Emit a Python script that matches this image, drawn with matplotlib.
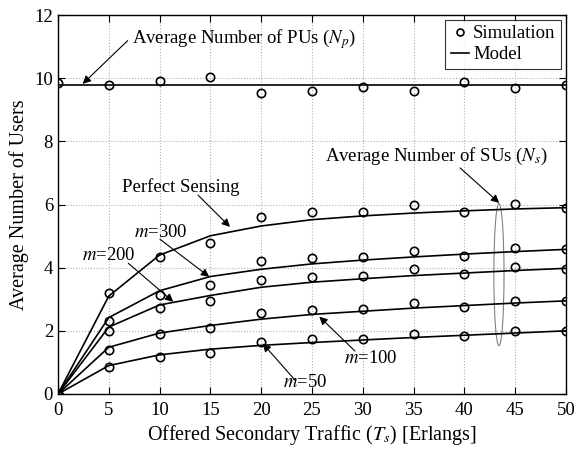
import numpy as np
import matplotlib
matplotlib.use('Agg')
import matplotlib.pyplot as plt
from matplotlib.patches import Ellipse

#---
#       DATA
#---
traffic = [0, 5, 10, 15, 20, 25, 30, 35, 40, 45, 50]

pu_sim   = [9.84, 9.80, 9.91, 10.04, 9.54, 9.59, 9.72, 9.59, 9.87, 9.68, 9.78]
pu_model = [9.80, 9.80, 9.80, 9.80, 9.80, 9.80, 9.80, 9.80, 9.80, 9.80, 9.80]

perfect_model = [0, 3.10, 4.40, 5.01, 5.32, 5.52, 5.64, 5.73, 5.80, 5.86, 5.90]
perfect_sim   = [0, 3.19, 4.35, 4.77, 5.61, 5.75, 5.75, 5.98, 5.75, 6.02, 5.90]
m300_model = [0, 2.42, 3.27, 3.72, 3.95, 4.12, 4.24, 4.34, 4.43, 4.51, 4.58]
m300_sim   = [0, 2.30, 3.15, 3.45, 4.20, 4.30, 4.35, 4.53, 4.38, 4.63, 4.59]
m200_model = [0, 2.12, 2.82, 3.12, 3.38, 3.54, 3.65, 3.75, 3.83, 3.91, 3.98]
m200_sim   = [0, 2.00, 2.72, 2.94, 3.60, 3.72, 3.74, 3.95, 3.80, 4.03, 3.97]
m100_model = [0, 1.48, 1.93, 2.17, 2.37, 2.52, 2.62, 2.72, 2.80, 2.88, 2.95]
m100_sim   = [0, 1.39, 1.89, 2.08, 2.55, 2.66, 2.68, 2.87, 2.77, 2.96, 2.94]
m50_model  = [0, 0.90, 1.24, 1.42, 1.54, 1.63, 1.71, 1.79, 1.86, 1.93, 2.00]
m50_sim    = [0, 0.85, 1.16, 1.31, 1.66, 1.73, 1.74, 1.89, 1.84, 2.00, 2.00]

models = [pu_model, perfect_model, m300_model, m200_model, m100_model, m50_model]
sims = [pu_sim, perfect_sim, m300_sim, m200_sim, m100_sim, m50_sim]

#---
#       PLOT
#---
plt.rcParams['font.family'] = ['Liberation Serif', 'DejaVu Serif']
plt.rcParams['mathtext.fontset'] = 'stix'
fs = 13.5      # ticks, legend, annotations
fl = 14.5      # axis labels

fig = plt.figure(figsize=(5.88, 4.49), dpi=100)
fig.set_facecolor('white')
ax = fig.add_axes([0.0986, 0.1225, 0.864, 0.844])

for mod in models:
    ax.plot(traffic, mod, '-', color='black', lw=1.2)
for sim in sims:
    ax.plot(traffic, sim, 'o', mfc='none', mec='black', ms=6, mew=1.2)

# legend handles
ax.plot([], [], 'o', mfc='none', mec='black', ms=5, mew=1.2, label='Simulation')
ax.plot([], [], '-', color='black', lw=1.2, label='Model')
leg = ax.legend(loc='upper right', fontsize=fs, frameon=True, fancybox=False,
                edgecolor='black', handlelength=1.0, handletextpad=0.2,
                borderpad=0.3, labelspacing=0.2, borderaxespad=0.25)
leg.get_frame().set_linewidth(0.8)

arr = dict(arrowstyle='-|>', color='black', lw=0.8, mutation_scale=12,
           shrinkA=0, shrinkB=0)

ax.text(7.25, 11.24, r'Average Number of PUs ($N_p$)', fontsize=fs, ha='left', va='center')
ax.annotate('', xy=(2.43, 9.82), xytext=(6.86, 11.19), arrowprops=arr)

ax.text(37.2, 7.51, r'Average Number of SUs ($N_s$)', fontsize=fs, ha='center', va='center')
ax.annotate('', xy=(43.43, 6.05), xytext=(39.57, 7.16), arrowprops=arr)
ax.add_patch(Ellipse((43.4, 3.78), 1.0, 4.5, fill=False, edgecolor='gray', lw=0.8))

ax.text(12.1, 6.56, 'Perfect Sensing', fontsize=fs, ha='center', va='center')
ax.annotate('', xy=(16.93, 5.29), xytext=(13.78, 6.3), arrowprops=arr)

ax.text(10.14, 5.11, r'$m$=300', fontsize=fs, ha='center', va='center')
ax.annotate('', xy=(14.89, 3.71), xytext=(10.04, 4.9), arrowprops=arr)

ax.text(4.95, 4.40, r'$m$=200', fontsize=fs, ha='center', va='center')
ax.annotate('', xy=(11.35, 2.92), xytext=(6.92, 4.14), arrowprops=arr)

ax.text(30.8, 1.13, r'$m$=100', fontsize=fs, ha='center', va='center')
ax.annotate('', xy=(25.72, 2.45), xytext=(29.23, 1.36), arrowprops=arr)

ax.text(24.3, 0.35, r'$m$=50', fontsize=fs, ha='center', va='center')
ax.annotate('', xy=(20.15, 1.6), xytext=(23.33, 0.44), arrowprops=arr)

ax.set_xlim(0, 50)
ax.set_ylim(0, 12)
ax.set_xticks(np.arange(0, 51, 5))
ax.set_yticks(np.arange(0, 13, 2))
ax.tick_params(direction='in', top=True, right=True, labelsize=fs, length=5, width=0.8)
ax.tick_params(axis='x', pad=6)
ax.grid(True, linestyle=':', color='#b0b0b0', lw=0.8)
for s in ax.spines.values():
    s.set_linewidth(1.0)

ax.set_xlabel(r'Offered Secondary Traffic ($T_s$) [Erlangs]', fontsize=fl, labelpad=3)
ax.set_ylabel('Average Number of Users', fontsize=fl, labelpad=4)

fig.savefig('out.png', dpi=100)
